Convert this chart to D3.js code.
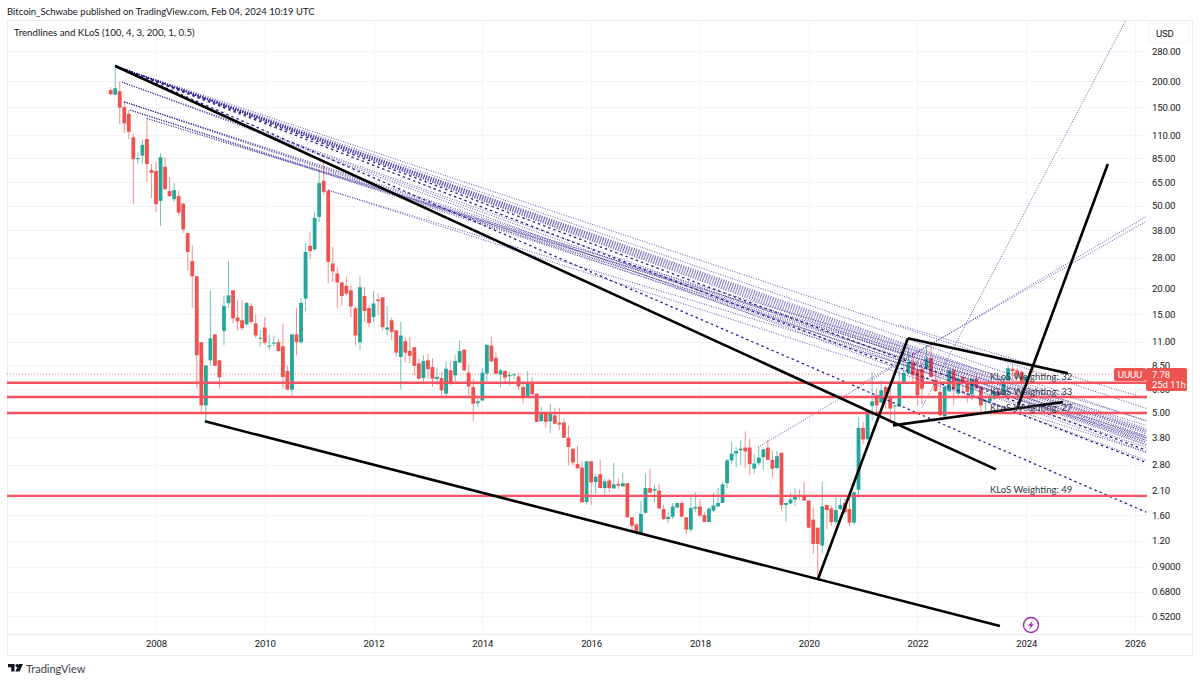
<!DOCTYPE html>
<html>
<head>
<meta charset="utf-8">
<script src="https://d3js.org/d3.v7.min.js"></script>
<style>
  html, body { margin: 0; padding: 0; background: #fff; }
  text { font-family: Lato, "Noto Sans", sans-serif; fill: #131722; }
  .num { font-family: Roboto, sans-serif; font-size: 9.6px; letter-spacing: -0.15px; }
</style>
</head>
<body>
<div id="svg_element"></div>
<script>
// Monthly UUUU candles, month 0 = Jan 2008, first candle Mar 2007
var months = d3.range(-10, 194);
var opens = [
    181,172,179,150,139,107,84,87.4,105,74.4,
    73.6,52.8,77.2,58.9,53.8,55.7,51.2,36.9,27,22.8,
    10.95,5.42,8.95,11.95,8.95,12.42,16.9,19.5,14.4,13.98,
    13.36,16.4,13.5,11.4,12.9,10.45,10.8,10.95,10.47,7.95,
    6.46,11.95,10.95,17.8,32,30.8,44.2,66,59.1,26.3,
    23.5,21.3,20.5,19.5,15.98,10.95,18.3,16,14.5,17.6,
    18.05,12.6,13.98,12.51,9.3,11.07,9.93,10.35,8.65,7.35,
    8.95,8.3,7.28,7.35,6.18,8.01,7.57,8.73,10.08,7.8,
    6.65,5.56,5.73,7.73,10.55,9.2,7.64,7.95,7.5,7.6,
    7.48,6.65,6.02,7,6.18,4.55,4.95,4.54,4.85,4.47,
    4.48,3.78,3.35,2.82,2.71,1.85,2.91,2.31,2.52,2.16,
    2.35,2.15,2.26,2.2,2.28,1.56,1.44,1.31,1.64,2.16,
    2.1,2.1,1.71,1.53,1.57,1.74,1.83,1.56,1.36,1.72,
    1.76,1.6,1.48,1.68,1.76,1.83,2.28,2.94,3.17,3.29,
    3.39,3.39,2.68,2.85,3.05,3.39,2.96,2.7,3.2,1.79,
    1.82,1.9,1.99,1.97,1.88,1.52,1.39,1.14,1.79,1.72,
    1.48,1.71,1.83,1.71,1.47,2.12,4.22,3.73,5.39,6.06,
    5.6,6.65,6,5.4,5.36,6.96,7.73,8.78,8.08,8.15,
    8.15,9.18,7.22,6.3,4.8,6.34,8.01,6.18,7.44,7.17,
    6.13,7.3,6.65,5.62,5.67,5.84,6.34,6.13,7.17,8.15,
    8.01,7.87,7.04,7.95
];
var highs = [
    187,240,199,159,145,112,91,104,133,79.6,
    81.6,89.9,86.2,68.8,64.7,59.1,51.5,37,32.2,22.8,
    10.95,8.46,19.5,11.95,8.95,18.45,27,19.5,17.47,17.47,
    17.15,16.9,14.9,12.51,14.46,11.95,11.8,11.35,13.5,8.46,
    11.95,15.98,17.85,33,37.4,46.7,72.9,80.4,59.1,31.6,
    25.2,21.4,22.8,20.6,16.4,22.8,20.2,16.5,19.3,18.9,
    18.05,16.4,14.4,12.51,13.7,11.6,11.6,10.35,9.15,9.47,
    9.65,9.15,8.18,7.87,8.85,8.85,9.47,11.19,10.1,8.55,
    7.3,6.06,8.2,10.65,11.65,9.75,8.15,8.01,7.87,7.78,
    7.78,6.9,7.95,7.44,6.18,5.32,4.95,5.52,5.28,5.28,
    4.68,4.34,3.35,3.45,2.92,2.91,2.91,2.54,2.96,2.39,
    2.4,2.86,2.41,2.56,2.28,1.56,1.46,1.88,2.54,2.68,
    2.24,2.27,1.8,1.65,1.83,1.83,1.88,1.56,1.97,2.06,
    1.9,1.65,1.74,2.05,2.17,2.31,3,3.6,3.41,3.67,
    4.06,3.74,3.15,3.43,3.35,3.7,3.29,3.26,3.2,1.83,
    2.06,2.16,2.13,2.31,1.88,1.74,1.39,2.32,1.79,1.78,
    1.95,1.93,1.91,1.94,2.06,4.76,4.51,5.13,7.8,6.55,
    7.17,6.78,6.41,5.42,8.01,9.65,10.35,9.82,8.95,8.78,
    10.55,11,8.01,7.33,6.78,8.08,8.08,7.87,7.57,7.3,
    7.35,7.73,6.78,5.84,6.06,6.52,6.55,7.3,8.46,8.46,
    8.25,8.01,7.57,8.15
];
var lows = [
    172,172,124,112,105,51,80,79.6,65.2,54.4,
    46.7,40,59.5,55.1,52.3,44.9,37,24.4,16,6.55,
    4.96,4.51,8.46,8.43,6.55,10.6,16.1,13.55,12.51,12.51,
    13.06,13.4,11.5,10.47,10.66,10.01,10.47,9.9,6.55,6.41,
    5.95,9.47,10.7,15.5,27.6,30.2,41.8,56.5,21.1,21.4,
    16,16.5,18.45,14.5,10.55,10.01,13.72,12.95,13.72,14.8,
    12.51,11.8,11.19,9.3,6.48,8.78,8.66,7.52,7.17,6.85,
    7.3,6.65,6.78,6.06,6.02,6.78,7.09,8.73,7.95,6.06,
    4.54,5.32,5.67,7.04,8.78,7.7,6.6,6.9,6.78,7.25,
    6.41,5.52,6.02,6.13,4.51,4.51,4.24,3.98,4.38,4.11,
    3.78,2.78,2.78,2.69,1.84,1.8,1.79,2.02,2.16,2.01,
    2.06,2.15,2.14,2.2,1.56,1.35,1.29,1.29,1.62,2.04,
    1.84,1.72,1.51,1.46,1.53,1.73,1.57,1.29,1.32,1.65,
    1.57,1.48,1.48,1.65,1.75,1.83,2.16,2.83,2.73,2.79,
    2.71,2.49,2.54,2.78,2.63,2.94,2.43,2.65,1.68,1.49,
    1.8,1.77,1.89,1.88,1.38,1.04,0.77,1.04,1.37,1.42,
    1.45,1.68,1.62,1.41,1.44,1.94,3.52,3.67,4.59,4.96,
    5.55,5.24,4.42,4.3,5.32,6.85,7.6,6.96,5.42,5.52,
    8.01,7.33,6.3,4.8,4.77,6.3,5.42,6.06,6.22,5.56,
    5.77,6.52,4.85,5.03,5.52,5.77,5.95,6.13,7.12,7.17,
    7.3,6.9,6.96,7.57
];
var closes = [
    173,185,149,125,114,84,85,98.5,79.6,72.2,
    50.9,85.9,60.2,55.7,59.5,46.3,38.4,29.9,22.8,9.47,
    5.42,8.46,11.44,8.43,7.41,16.4,18.45,14.3,13.83,12.8,
    16.95,13.72,11.8,11.5,10.9,10.55,10.9,9.93,7.44,6.46,
    11.95,10.95,16.95,29.9,30.2,43.7,64.3,58.4,26.8,24.1,
    21.3,18.3,18.8,16.3,11.8,20.2,15.5,13.55,16.85,17.3,
    12.95,12.9,12.3,9.75,11.8,9.75,9.42,8.41,7.3,8.88,
    8.12,7.3,7.44,6.41,8.15,7.04,8.88,9.93,8.01,6.7,
    5.52,5.67,7.8,10.65,8.85,7.7,8.01,7.38,7.6,7.66,
    6.7,6.02,6.96,6.13,4.51,4.95,4.51,4.95,4.42,4.37,
    3.78,3.41,2.87,2.69,1.84,2.91,2.3,2.45,2.16,2.33,
    2.16,2.25,2.22,2.28,1.56,1.42,1.31,1.62,2.16,2.05,
    2.14,1.72,1.53,1.57,1.76,1.83,1.57,1.36,1.73,1.75,
    1.59,1.48,1.72,1.78,1.83,2.25,2.94,3.17,3.26,3.35,
    3.25,2.82,2.84,3.03,3.32,2.96,2.68,3.08,1.79,1.83,
    1.9,1.98,1.96,1.88,1.39,1.16,1.16,1.76,1.69,1.48,
    1.69,1.79,1.65,1.47,2.06,4.22,3.71,5.09,5.67,5.42,
    6.41,5.95,5.23,5.42,6.9,7.78,8.78,7.57,6.06,6.52,
    9.12,7.44,6.36,4.85,6.65,8.01,6.52,7.3,6.9,6.3,
    7.3,6.56,5.42,5.73,5.88,6.3,6.18,7.04,8.2,7.95,
    7.57,7,7.48,7.78
];

// KLoS levels and their weightings
var klosPrices = [6.97, 5.95, 4.98, 1.98];
var klosWeights = [32, 33, 27, 49];

// Hand drawn black trendlines: [month, price, month, price]
var blackLines = [
    [-9, 237, 185.3, 2.66],
    [10.8, 4.54, 186.2, 0.465],
    [146, 0.779, 165.9, 11.44],
    [165.9, 11.44, 201.2, 7.75],
    [162.6, 4.34, 200.1, 5.62],
    [190, 5.24, 210, 79.6]
];

// Indicator trendlines, dotted
var dottedLines = [
    [-9, 237, 218.5, 5.24], [-9, 237, 218.5, 4.54], [-9, 237, 218.5, 4.19],
    [-9, 237, 218.5, 4.11], [-9, 237, 218.5, 4.02], [-9, 237, 218.5, 3.94],
    [-9, 237, 218.5, 3.85], [-9, 237, 218.5, 3.76], [-9, 237, 218.5, 3.67],
    [-9, 237, 218.5, 3.59], [-9, 237, 218.5, 3.51],
    [-7.5, 198, 218.5, 3.48], [-7.5, 198, 218.5, 3.22], [-7.5, 198, 218.5, 2.94],
    [-7, 159, 218.5, 4.02], [-7, 159, 218.5, 3.8], [-7, 159, 218.5, 3.59], [-7, 159, 218.5, 3.4],
    [-5.7, 145, 218.5, 4.11], [-5.7, 145, 218.5, 3.85], [-5.7, 145, 218.5, 3.67],
    [-2, 132, 218.5, 4.59], [-2, 132, 218.5, 4.34],
    [38, 59.5, 218.5, 3.76], [38, 59.5, 218.5, 3.22],
    [164.2, 13.2, 218.5, 5.86],
    [132.8, 3.4, 218.5, 44.4], [155.3, 6.85, 218.5, 42.1], [169, 5.3, 214, 395]
];

// The heavier dashed ones
var dashedLines = [
    [-9, 237, 218.5, 3.29], [-9, 237, 218.5, 2.87], [-9, 237, 218.5, 1.65]
];

var priceTicks = [280, 200, 150, 110, 85, 65, 50, 38, 28, 20, 15, 11, 8.5, 6.5, 5, 3.8, 2.8, 2.1, 1.6, 1.2, 0.9, 0.68, 0.52];
var yearTicks = [2008, 2010, 2012, 2014, 2016, 2018, 2020, 2022, 2024, 2026];
var lastPrice = 7.78;

var width = 1200, height = 683;
var plot = { left: 7, right: 1147, top: 20, bottom: 634, outerRight: 1192, outerBottom: 655 };

var upColor = "#26a69a", downColor = "#ef5350", klosColor = "#f7525f", lineBlue = "#311b92";

var svg = d3.select("#svg_element")
    .append("svg")
    .attr("width", width)
    .attr("height", height)
    .style("display", "block");

// Scales: bars are evenly spaced so the x axis runs on month number
var x = d3.scaleLinear().domain([0, 216]).range([156, 1135]);
var y = d3.scaleLog().domain([280, 0.52]).range([51, 616]);

svg.append("clipPath").attr("id", "plotClip")
    .append("rect")
    .attr("x", plot.left)
    .attr("y", plot.top)
    .attr("width", plot.right - plot.left)
    .attr("height", plot.bottom - plot.top);

// Frame
svg.append("rect")
    .attr("x", plot.left + 0.5)
    .attr("y", plot.top + 0.5)
    .attr("width", plot.outerRight - plot.left)
    .attr("height", plot.outerBottom - plot.top)
    .attr("fill", "none")
    .attr("stroke", "#e9ecf2");
svg.append("line")
    .attr("x1", plot.left).attr("x2", plot.outerRight)
    .attr("y1", plot.bottom + 0.5).attr("y2", plot.bottom + 0.5)
    .attr("stroke", "#e9ecf2");

// Grid
var grid = svg.append("g");
grid.selectAll(".hgrid")
    .data(priceTicks)
    .join("line")
    .attr("x1", plot.left)
    .attr("x2", plot.right)
    .attr("y1", d => Math.round(y(d)) + 0.5)
    .attr("y2", d => Math.round(y(d)) + 0.5)
    .attr("stroke", "#f2f4f8");
grid.selectAll(".vgrid")
    .data(yearTicks)
    .join("line")
    .attr("x1", d => Math.round(x((d - 2008) * 12)) + 0.5)
    .attr("x2", d => Math.round(x((d - 2008) * 12)) + 0.5)
    .attr("y1", plot.top)
    .attr("y2", plot.bottom)
    .attr("stroke", "#f2f4f8");

// Axes
var yAxis = svg.append("g")
    .attr("transform", "translate(1150,0)")
    .call(d3.axisRight(y)
        .tickValues(priceTicks)
        .tickSize(0)
        .tickPadding(2)
        .tickFormat(d => d < 1 ? d.toFixed(4) : d.toFixed(2)));
yAxis.select(".domain").remove();
yAxis.selectAll("text").attr("class", "num").attr("font-size", null).attr("font-family", null);
yAxis.attr("font-size", null).attr("font-family", null);

var xAxis = svg.append("g")
    .attr("transform", "translate(0," + plot.bottom + ")")
    .call(d3.axisBottom(x)
        .tickValues(yearTicks.map(d => (d - 2008) * 12))
        .tickSize(0)
        .tickPadding(6)
        .tickFormat(d => 2008 + d / 12));
xAxis.select(".domain").remove();
xAxis.attr("font-size", null).attr("font-family", null);
xAxis.selectAll("text").attr("class", "num");

var chart = svg.append("g").attr("clip-path", "url(#plotClip)");

// Dotted last price line
chart.append("line")
    .attr("x1", plot.left)
    .attr("x2", plot.right)
    .attr("y1", y(lastPrice) + 1)
    .attr("y2", y(lastPrice) + 1)
    .attr("stroke", downColor)
    .attr("stroke-opacity", 0.7)
    .attr("stroke-dasharray", "1 2");

// Candles
var candles = months.map(function (m, i) {
    return { month: m, open: opens[i], high: highs[i], low: lows[i], close: closes[i] };
});
function candleColor(d) {
    return d.close >= d.open ? upColor : downColor;
}
chart.selectAll(".wick")
    .data(candles)
    .join("line")
    .attr("x1", d => x(d.month))
    .attr("x2", d => x(d.month))
    .attr("y1", d => y(d.high))
    .attr("y2", d => y(d.low))
    .attr("stroke", candleColor)
    .attr("stroke-opacity", 0.65);
chart.selectAll(".body")
    .data(candles)
    .join("rect")
    .attr("x", d => x(d.month) - 1.9)
    .attr("width", 3.8)
    .attr("y", d => y(Math.max(d.open, d.close)))
    .attr("height", d => Math.max(1, y(Math.min(d.open, d.close)) - y(Math.max(d.open, d.close))))
    .attr("fill", candleColor);

// Indicator lines
function drawLines(rows, style) {
    chart.append("g").selectAll("line")
        .data(rows)
        .join("line")
        .attr("x1", d => x(d[0]))
        .attr("y1", d => y(d[1]))
        .attr("x2", d => x(d[2]))
        .attr("y2", d => y(d[3]))
        .attr("stroke", style.color)
        .attr("stroke-width", style.width)
        .attr("stroke-opacity", style.opacity)
        .attr("stroke-dasharray", style.dash);
}
drawLines(dottedLines, { color: lineBlue, width: 1, opacity: 0.75, dash: "1 1.5" });
drawLines(dashedLines, { color: lineBlue, width: 1.3, opacity: 1, dash: "2.5 3" });

// KLoS levels
chart.selectAll(".klos")
    .data(klosPrices)
    .join("line")
    .attr("x1", plot.left)
    .attr("x2", plot.right)
    .attr("y1", d => y(d))
    .attr("y2", d => y(d))
    .attr("stroke", klosColor)
    .attr("stroke-width", 2.4);

// Black trendlines
drawLines(blackLines, { color: "#000", width: 2.6, opacity: 1, dash: null });

chart.selectAll(".klosLabel")
    .data(klosPrices)
    .join("text")
    .attr("x", 990)
    .attr("y", d => y(d) - 2.5)
    .style("font-size", "9.5px")
    .style("fill", "#333a45")
    .text((d, i) => "KLoS Weighting: " + klosWeights[i]);

// Price tags on the axis
var tagY = Math.round(y(lastPrice)) - 5;
svg.append("rect")
    .attr("x", 1114).attr("y", tagY)
    .attr("width", 32).attr("height", 13)
    .attr("rx", 2)
    .attr("fill", downColor);
svg.append("text")
    .attr("x", 1130).attr("y", tagY + 9.5)
    .attr("text-anchor", "middle")
    .attr("class", "num")
    .style("fill", "#fff")
    .text("UUUU");
svg.append("rect")
    .attr("x", 1146).attr("y", tagY)
    .attr("width", 41).attr("height", 23)
    .attr("rx", 2)
    .attr("fill", downColor);
svg.append("text")
    .attr("x", 1152).attr("y", tagY + 9.5)
    .attr("class", "num")
    .style("fill", "#fff")
    .text(lastPrice.toFixed(2));
svg.append("text")
    .attr("x", 1152).attr("y", tagY + 20)
    .attr("class", "num")
    .style("fill", "#fff")
    .text("25d 11h");

// Currency box
svg.append("rect")
    .attr("x", 1149).attr("y", 23)
    .attr("width", 40).attr("height", 20)
    .attr("rx", 2)
    .attr("fill", "#fff")
    .attr("stroke", "#f0f2f6");
svg.append("text")
    .attr("x", 1156).attr("y", 37)
    .attr("class", "num")
    .text("USD");

// Titles
svg.append("text")
    .attr("x", 7).attr("y", 14.5)
    .style("font-size", "9.5px")
    .text("Bitcoin_Schwabe published on TradingView.com, Feb 04, 2024 10:19 UTC");
svg.append("text")
    .attr("x", 14).attr("y", 36)
    .style("font-size", "9.7px")
    .text("Trendlines and KLoS (100, 4, 3, 200, 1, 0.5)");

// Lightning badge
var badge = svg.append("g").attr("transform", "translate(1031,625)");
badge.append("circle")
    .attr("r", 7.5)
    .attr("fill", "#fff")
    .attr("stroke", "#9c27b0")
    .attr("stroke-width", 1.3);
badge.append("path")
    .attr("d", "M1.8,-4.5 L-2.8,0.8 L-0.3,0.8 L-1.8,4.5 L2.8,-0.8 L0.3,-0.8 Z")
    .attr("fill", "#9c27b0");

// Logo
var logo = svg.append("g").attr("transform", "translate(8,664)").attr("fill", "#131722");
logo.append("path").attr("d", "M0,0 H6.5 V7.5 H3.2 V3.2 H0 Z");
logo.append("circle").attr("cx", 9).attr("cy", 1.6).attr("r", 1.6);
logo.append("path").attr("d", "M10.8,0 H15 L11.5,7.5 H7.4 Z");
svg.append("text")
    .attr("x", 26).attr("y", 673)
    .style("font-size", "11px")
    .style("fill", "#3a3e4a")
    .text("TradingView");
</script>
</body>
</html>
